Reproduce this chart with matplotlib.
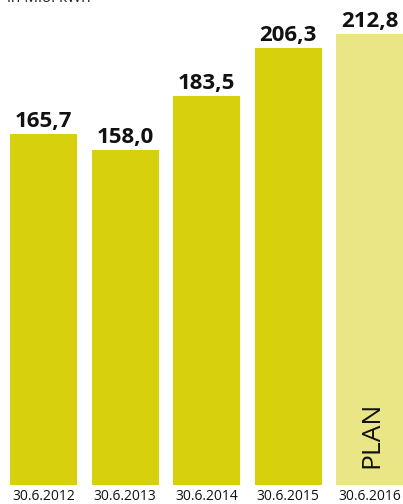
import matplotlib
matplotlib.use('Agg')
import matplotlib.pyplot as plt

# ─── Data ────────────────────────────────────────────────────────────────────
DATES  = ["30.6.2012", "30.6.2013", "30.6.2014", "30.6.2015", "30.6.2016"]
VALUES = [165.7, 158.0, 183.5, 206.3, 212.8]
IS_PLAN = [False, False, False, False, True]
UNIT   = "in Mio. kWh"

COL_ACTUAL = "#D6D10C"
COL_PLAN   = "#EAE686"

plt.rcParams["font.family"] = ["Open Sans", "DejaVu Sans"]

fig = plt.figure(figsize=(4.03, 5.04), dpi=100)
ax = fig.add_axes([0, 1 - 485 / 504, 1, 485 / 504])

x = list(range(len(VALUES)))
colors = [COL_PLAN if p else COL_ACTUAL for p in IS_PLAN]
bars = ax.bar(x, VALUES, width=0.82, color=colors)

# value labels above bars
for xi, v in zip(x, VALUES):
    ax.text(xi, v + 3.4, f"{v:.1f}".replace(".", ","), ha="center", va="baseline",
            fontsize=16, fontweight="bold", color="#111111")

for xi, p in zip(x, IS_PLAN):
    if p:
        ax.text(xi + 0.02, 8, "PLAN", rotation=90, ha="center", va="bottom",
                fontsize=19, color="#111111")

ax.set_xlim(-0.533, 4.406)
ax.set_ylim(0, 228.9)
ax.set_xticks(x)
ax.set_xticklabels(DATES, fontsize=10, color="#111111")
ax.tick_params(axis="x", length=0, pad=3)
ax.set_yticks([])
for s in ax.spines.values():
    s.set_visible(False)

fig.text(7 / 403, 1 - 2 / 504, UNIT, ha="left", va="baseline", fontsize=11, color="#222222")

fig.savefig("out.png", dpi=100)
